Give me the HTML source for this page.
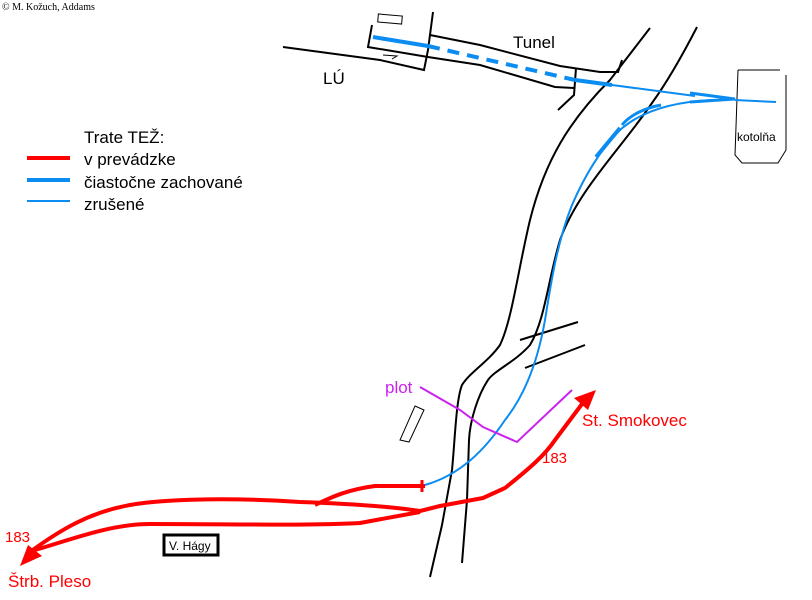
<!DOCTYPE html>
<html><head><meta charset="utf-8"><style>
html,body{margin:0;padding:0;background:#fff;width:812px;height:600px;overflow:hidden}
svg{display:block}
text{font-family:"Liberation Sans",sans-serif}
</style></head><body>
<svg width="812" height="600" viewBox="0 0 812 600" xmlns="http://www.w3.org/2000/svg">
<text x="2" y="10" font-family="Liberation Serif" font-size="10" style="font-family:'Liberation Serif',serif">© M. Kožuch, Addams</text>

<!-- legend -->
<text x="84" y="143" font-size="17">Trate TEŽ:</text>
<text x="84" y="165" font-size="17">v prevádzke</text>
<text x="84" y="188" font-size="17">čiastočne zachované</text>
<text x="84" y="210" font-size="17">zrušené</text>
<line x1="27" y1="158" x2="70" y2="158" stroke="#f00" stroke-width="4"/>
<line x1="27" y1="180" x2="70" y2="180" stroke="#0a8cf0" stroke-width="4"/>
<line x1="27" y1="201" x2="70" y2="201" stroke="#0a8cf0" stroke-width="2"/>

<g fill="none" stroke="#000" stroke-width="2">
<!-- LU line and building -->
<polyline points="283,47 380,60 424,70 428,50 433,12"/>
<polyline points="372,25 368,47 428,57"/>
<!-- tunnel -->
<polyline points="430,35 480,45 560,66 600,72 618,72 622,60"/>
<polyline points="428,57 480,65 555,87 574,88"/>
<polyline points="576,68 574,95 558,110"/>
<!-- roads -->
<path d="M650,28 L610,80 C570,120 545,160 530,220 C518,270 512,320 500,345 C488,362 470,372 462,385 C456,400 455,440 452,470 L442,525 L430,577"/>
<path d="M697,27 C680,60 665,85 652,103 C620,150 578,190 560,240 C548,280 545,320 530,345 C515,362 495,370 488,380 C478,395 470,420 469,440 L467,500 L462,563"/>
<polyline points="520,340 578,322" />
<polyline points="525,368 585,345"/>
</g>
<g fill="none" stroke="#000" stroke-width="1">
<rect x="378" y="15" width="24" height="8" transform="rotate(5 390 19)"/>
<polyline points="383,55 397,56 392,59"/>
<polyline points="738,70 780,70"/>
<path d="M738,70 L735,155 L742,163 L778,163 L786,150 L786,75"/>
<path d="M415,406 L424,410 L409,442 L400,440 Z"/>
</g>
<text x="323" y="84" font-size="17">LÚ</text>
<text x="513" y="48" font-size="17">Tunel</text>
<text x="737" y="141" font-size="12">kotolňa</text>

<!-- blue -->
<g fill="none" stroke="#0a8cf0">
<line x1="373" y1="37" x2="428" y2="46" stroke-width="4"/>
<line x1="428" y1="46" x2="575" y2="80" stroke-width="4" stroke-dasharray="12,8"/>
<line x1="575" y1="80" x2="612" y2="85" stroke-width="4"/>
<line x1="612" y1="85" x2="695" y2="96" stroke-width="2"/>
<path d="M690,93 L735,99 L690,102" stroke-width="3"/>
<line x1="735" y1="100" x2="776" y2="102" stroke-width="2"/>
<path d="M712,100 C670,102 640,112 620,130 C600,150 585,175 572,205 C556,245 550,290 545,320 C538,360 525,395 505,420 C485,450 460,475 425,485" stroke-width="2"/>
<path d="M661,105 C645,108 630,115 622,125" stroke-width="3"/>
<line x1="596" y1="157" x2="620" y2="128" stroke-width="4"/>
</g>

<!-- purple -->
<polyline points="420,387 460,410 483,427 517,442 572,390" fill="none" stroke="#cc22ee" stroke-width="2"/>
<text x="385" y="393" font-size="17" fill="#cc22ee">plot</text>

<!-- red -->
<g fill="none" stroke="#f00" stroke-width="4" stroke-linejoin="round">
<path d="M585,400 L555,440 C545,455 530,468 505,488 L483,498 L440,506 L420,511 C380,505 330,503 300,502 C240,498 170,498 130,505 C90,512 60,530 30,552"/>
<path d="M420,512 L360,523 C300,526 240,524 150,524 C110,524 70,540 35,550"/>
<path d="M315,505 C330,498 345,490 375,486 L425,486"/>
</g>
<polygon points="596,390 574,398 588,410" fill="#f00"/>
<polygon points="20,566 28,545 42,556" fill="#f00"/>
<line x1="422" y1="480" x2="422" y2="492" stroke="#f00" stroke-width="3"/>
<text x="582" y="426" font-size="17" fill="#f00">St. Smokovec</text>
<text x="542" y="463" font-size="15" fill="#f00">183</text>
<text x="5" y="542" font-size="15" fill="#f00">183</text>
<text x="8" y="587" font-size="17" fill="#f00">Štrb. Pleso</text>

<rect x="164" y="535" width="54" height="20" fill="#fff" stroke="#000" stroke-width="3"/>
<text x="169" y="550" font-size="12">V. Hágy</text>
</svg>
</body></html>
